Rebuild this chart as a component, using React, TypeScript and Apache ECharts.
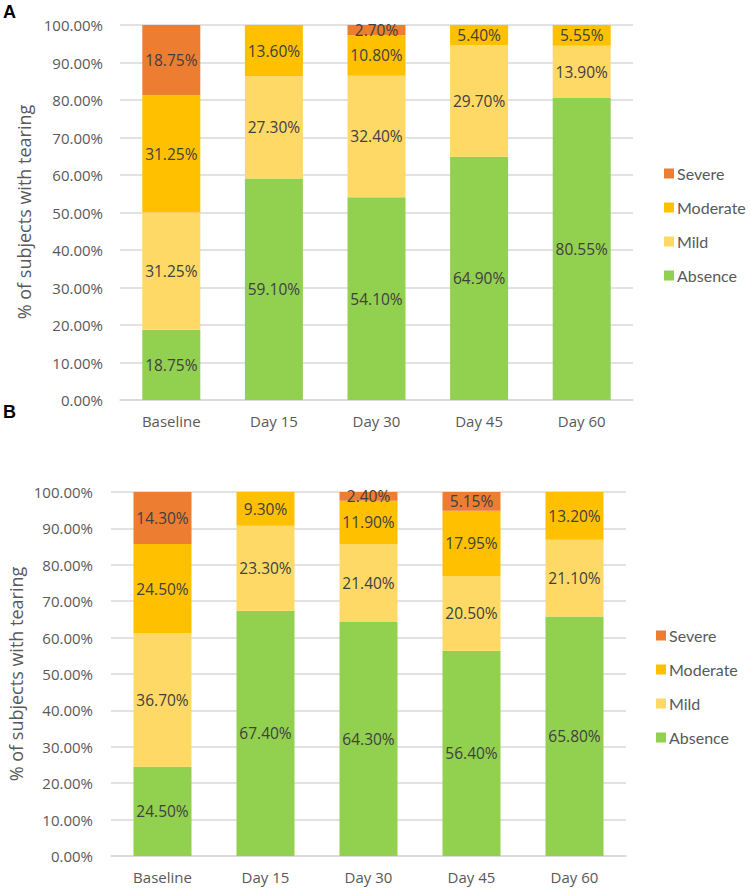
import React, { useEffect, useRef } from "react";
import * as echarts from "echarts";

const categories = ["Baseline", "Day 15", "Day 30", "Day 45", "Day 60"];
const seriesNames = ["Absence", "Mild", "Moderate", "Severe"];
const colors = ["#92D050", "#FFD966", "#FFC000", "#ED7D31"];

const aAbsence = [18.75, 59.1, 54.1, 64.9, 80.55];
const aMild = [31.25, 27.3, 32.4, 29.7, 13.9];
const aModerate = [31.25, 13.6, 10.8, 5.4, 5.55];
const aSevere = [18.75, 0, 2.7, 0, 0];

const bAbsence = [24.5, 67.4, 64.3, 56.4, 65.8];
const bMild = [36.7, 23.3, 21.4, 20.5, 21.1];
const bModerate = [24.5, 9.3, 11.9, 17.95, 13.2];
const bSevere = [14.3, 0, 2.4, 5.15, 0];

const yTicks = [0, 10, 20, 30, 40, 50, 60, 70, 80, 90, 100];
const yAxisTitle = "% of subjects with tearing";
const FONT = "'Open Sans', 'Noto Sans', sans-serif";
const LEGEND_FONT = "Lato, 'Open Sans', sans-serif";

export default function App() {
  const ref = useRef<HTMLDivElement>(null);
  useEffect(() => {
    if (!ref.current) return;
    const chart = echarts.init(ref.current, undefined, { renderer: "svg" });
    const panels = [
      { data: [aAbsence, aMild, aModerate, aSevere], grid: { left: 120, top: 25, width: 513, height: 375 }, legendLeft: 664, legendTop: 164, labelMargin: 17 },
      { data: [bAbsence, bMild, bModerate, bSevere], grid: { left: 111, top: 492, width: 515, height: 364 }, legendLeft: 656, legendTop: 626, labelMargin: 18 },
    ];
    const series: any[] = [];
    panels.forEach((p, pi) => {
      p.data.forEach((vals, si) => {
        series.push({
          type: "bar",
          name: seriesNames[si],
          xAxisIndex: pi,
          yAxisIndex: pi,
          stack: "s" + pi,
          barWidth: 58,
          data: vals,
          itemStyle: { color: colors[si] },
          label: {
            show: true,
            position: "inside",
            color: "#404040",
            fontSize: 15.5,
            fontFamily: FONT,
            formatter: (pp: any) => (pp.value ? Number(pp.value).toFixed(2) + "%" : ""),
          },
        });
      });
    });
    const option: any = {
      animation: false,
      textStyle: { fontFamily: FONT },
      grid: panels.map((p) => ({ ...p.grid, containLabel: false })),
      xAxis: panels.map((p, i) => ({
        type: "category",
        gridIndex: i,
        data: categories,
        axisLine: { show: true, lineStyle: { color: "#D9D9D9", width: 1.5 } },
        axisTick: { show: false },
        axisLabel: { color: "#595959", fontSize: 15, margin: 13, fontFamily: FONT },
      })),
      yAxis: panels.map((p, i) => ({
        type: "value",
        gridIndex: i,
        min: yTicks[0],
        max: yTicks[yTicks.length - 1],
        interval: 10,
        axisLine: { show: false },
        axisTick: { show: false },
        splitLine: { lineStyle: { color: "#D9D9D9", width: 1.5 } },
        axisLabel: {
          color: "#595959",
          fontSize: 15,
          margin: p.labelMargin,
          fontFamily: FONT,
          formatter: (v: number) => v.toFixed(2) + "%",
        },
      })),
      legend: panels.map((p) => ({
        orient: "vertical",
        left: p.legendLeft,
        top: p.legendTop,
        padding: 0,
        icon: "rect",
        itemWidth: 10,
        itemHeight: 10,
        itemGap: 15,
        data: [...seriesNames].reverse(),
        textStyle: { color: "#595959", fontSize: 16, lineHeight: 19, fontFamily: LEGEND_FONT, padding: [0, 0, 0, -2] },
        selectedMode: false,
      })),
      graphic: [
        { type: "text", left: 3, top: 3, style: { text: "A", font: "bold 18px 'Liberation Sans', Arial, sans-serif", fill: "#000" } },
        { type: "text", left: 3, top: 403, style: { text: "B", font: "bold 18px 'Liberation Sans', Arial, sans-serif", fill: "#000" } },
        { type: "text", x: 24, y: 212, rotation: Math.PI / 2, style: { text: yAxisTitle, font: "18px 'Open Sans', 'Noto Sans', sans-serif", fill: "#595959", textAlign: "center", textVerticalAlign: "middle" } },
        { type: "text", x: 16, y: 674, rotation: Math.PI / 2, style: { text: yAxisTitle, font: "18px 'Open Sans', 'Noto Sans', sans-serif", fill: "#595959", textAlign: "center", textVerticalAlign: "middle" } },
      ],
      series,
    };
    chart.setOption(option);
    return () => chart.dispose();
  }, []);
  return <div ref={ref} style={{ position: "absolute", left: 0, top: 0, width: 750, height: 892, background: "#fff" }} />;
}
